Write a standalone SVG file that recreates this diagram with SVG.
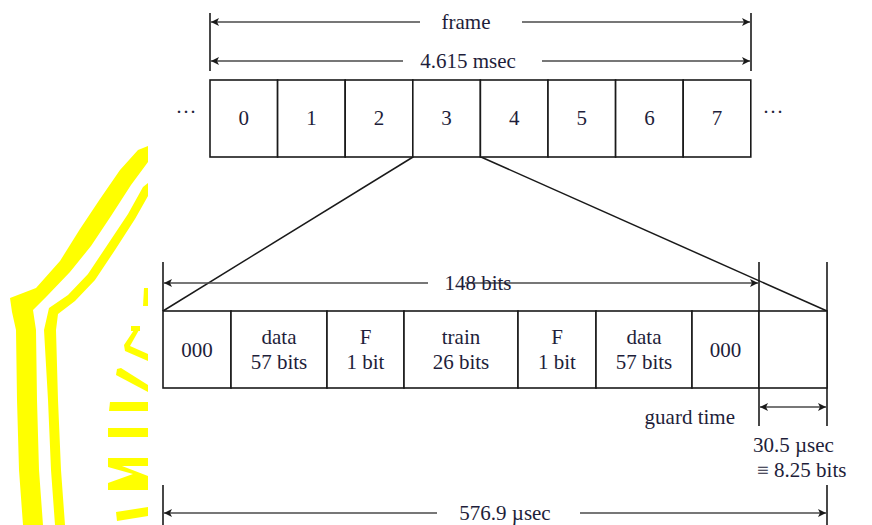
<svg xmlns="http://www.w3.org/2000/svg" width="872" height="525" viewBox="0 0 872 525">
<style>
  .t { font-family: "Liberation Serif", "Times New Roman", serif; font-size: 21px; fill: #1e1e3a; text-anchor: middle; }
  .box { fill: #ffffff; stroke: #1a1a1a; stroke-width: 1.6; }
  .ln { stroke: #1a1a1a; stroke-width: 1.5; fill: none; }
  .dim { stroke: #4a4a4a; stroke-width: 1.6; fill: none; }
  .tick { stroke: #1a1a1a; stroke-width: 1.6; fill: none; }
  .wm { fill: #ffff00; stroke: none; }
</style>
<defs>
  <marker id="ah" viewBox="0 0 10 10" refX="10" refY="5" markerWidth="9" markerHeight="8" markerUnits="userSpaceOnUse" orient="auto">
    <path d="M0,0 L10,5 L0,10 L2.5,5 Z" fill="#1a1a1a"/>
  </marker>
  <marker id="ahs" viewBox="0 0 10 10" refX="0" refY="5" markerWidth="9" markerHeight="8" markerUnits="userSpaceOnUse" orient="auto">
    <path d="M10,0 L0,5 L10,10 L7.5,5 Z" fill="#1a1a1a"/>
  </marker>
</defs>
<rect width="872" height="525" fill="#ffffff"/>

<!-- background watermark -->
<g id="watermark">
  <path class="wm" d="M148,146 L138,150 L120,170 L100,199 L80,229 L60,261 L36,288 L10,298 L12,312 L16,330 L17,400 L19,470 L23,525 L43,525 L39,470 L37,400 L36,330 L33,310 L47,296 L70,272 L91,246 L111,216 L131,185 L148,162 Z"/>
  <path class="wm" d="M148,183 L143,187 L128,214 L108,244 L88,274 L68,295 L49,308 L44,330 L48,400 L51,470 L55,525 L65,525 L61,470 L58,400 L56,330 L58,314 L75,301 L95,280 L115,250 L135,219 L148,196 Z"/>
  <path class="wm" d="M144,288 L148,288 L148,306 L143,306 Z"/>
  <path class="wm" d="M131,326 L140,326 L140,331 L131,331 Z"/>
  <path class="wm" d="M134,330 L139,330 L130,346 L148,354 L148,361 L125,351 L124,345 Z"/>
  <path class="wm" d="M117,369 L121,368 L148,385 L148,392 L116,375 Z"/>
  <path class="wm" d="M110,402 L148,402 L148,411 L109,411 Z"/>
  <path class="wm" d="M108,428 L148,428 L148,437 L108,437 Z"/>
  <path class="wm" d="M108,458 L148,458 L148,466 L122,466 L148,476 L148,482 L128,481 L148,482 L148,490 L108,490 L108,483 L133,474 L108,467 Z"/>
  <path class="wm" d="M116,512 L148,507 L148,516 L117,521 Z"/>
</g>

<!-- connectors: dimension arrows, zoom lines -->
<g id="connectors">
  <!-- frame dimension -->
  <line class="tick" x1="210" y1="13" x2="210" y2="71"/>
  <line class="tick" x1="751" y1="13" x2="751" y2="71"/>
  <line class="dim" x1="420" y1="22" x2="211" y2="22" marker-end="url(#ah)"/>
  <line class="dim" x1="522" y1="22" x2="750" y2="22" marker-end="url(#ah)"/>
  <line class="dim" x1="403" y1="61" x2="211" y2="61" marker-end="url(#ah)"/>
  <line class="dim" x1="542" y1="61" x2="750" y2="61" marker-end="url(#ah)"/>
  <!-- zoom lines -->
  <line class="ln" x1="413" y1="157" x2="163" y2="311"/>
  <line class="ln" x1="481" y1="157" x2="827" y2="311"/>
  <!-- 148 bits -->
  <line class="tick" x1="163" y1="262" x2="163" y2="311"/>
  <line class="dim" x1="428" y1="283" x2="164" y2="283" marker-end="url(#ah)"/>
  <line class="dim" x1="465" y1="283" x2="758" y2="283" marker-end="url(#ah)"/>
  <!-- guard time -->
  <line class="tick" x1="759" y1="262" x2="759" y2="426"/>
  <line class="tick" x1="827" y1="262" x2="827" y2="426"/>
  <line class="dim" x1="760" y1="407" x2="826" y2="407" marker-start="url(#ahs)" marker-end="url(#ah)"/>
  <!-- 576.9 usec -->
  <line class="tick" x1="163" y1="485" x2="163" y2="525"/>
  <line class="tick" x1="827" y1="485" x2="827" y2="525"/>
  <line class="dim" x1="437" y1="513" x2="164" y2="513" marker-end="url(#ah)"/>
  <line class="dim" x1="580" y1="513" x2="826" y2="513" marker-end="url(#ah)"/>
</g>

<!-- frame slots -->
<g id="frame">
  <text class="t" x="186" y="119">···</text>
  <g id="slot0"><rect class="box" x="210" y="80" width="67.6" height="77"/><text class="t" x="243.8" y="125">0</text></g>
  <g id="slot1"><rect class="box" x="277.6" y="80" width="67.6" height="77"/><text class="t" x="311.4" y="125">1</text></g>
  <g id="slot2"><rect class="box" x="345.2" y="80" width="67.6" height="77"/><text class="t" x="379" y="125">2</text></g>
  <g id="slot3"><rect class="box" x="412.8" y="80" width="67.6" height="77"/><text class="t" x="446.6" y="125">3</text></g>
  <g id="slot4"><rect class="box" x="480.4" y="80" width="67.6" height="77"/><text class="t" x="514.2" y="125">4</text></g>
  <g id="slot5"><rect class="box" x="548" y="80" width="67.6" height="77"/><text class="t" x="581.8" y="125">5</text></g>
  <g id="slot6"><rect class="box" x="615.6" y="80" width="67.6" height="77"/><text class="t" x="649.4" y="125">6</text></g>
  <g id="slot7"><rect class="box" x="683.2" y="80" width="67.6" height="77"/><text class="t" x="717" y="125">7</text></g>
  <text class="t" x="773" y="119">···</text>
</g>

<!-- burst fields -->
<g id="burst">
  <g id="f-tail1"><rect class="box" x="163" y="311" width="68" height="77"/><text class="t" x="197" y="357">000</text></g>
  <g id="f-data1"><rect class="box" x="231" y="311" width="96" height="77"/><text class="t" x="279" y="344">data</text><text class="t" x="279" y="369">57 bits</text></g>
  <g id="f-flag1"><rect class="box" x="327" y="311" width="77" height="77"/><text class="t" x="365.5" y="344">F</text><text class="t" x="365.5" y="369">1 bit</text></g>
  <g id="f-train"><rect class="box" x="404" y="311" width="114" height="77"/><text class="t" x="461" y="344">train</text><text class="t" x="461" y="369">26 bits</text></g>
  <g id="f-flag2"><rect class="box" x="518" y="311" width="78" height="77"/><text class="t" x="557" y="344">F</text><text class="t" x="557" y="369">1 bit</text></g>
  <g id="f-data2"><rect class="box" x="596" y="311" width="96" height="77"/><text class="t" x="644" y="344">data</text><text class="t" x="644" y="369">57 bits</text></g>
  <g id="f-tail2"><rect class="box" x="692" y="311" width="67" height="77"/><text class="t" x="725.5" y="357">000</text></g>
  <g id="f-guard"><rect class="box" x="759" y="311" width="68" height="77"/></g>
</g>

<!-- labels -->
<g id="labels">
  <text class="t" x="466" y="29">frame</text>
  <text class="t" x="468" y="68">4.615 msec</text>
  <text class="t" x="478" y="290">148 bits</text>
  <text class="t" x="735" y="424" style="text-anchor:end">guard time</text>
  <text class="t" x="753" y="452" style="text-anchor:start">30.5 µsec</text>
  <text class="t" x="757" y="477" style="text-anchor:start">≡ 8.25 bits</text>
  <text class="t" x="505" y="520">576.9 µsec</text>
</g>
</svg>
